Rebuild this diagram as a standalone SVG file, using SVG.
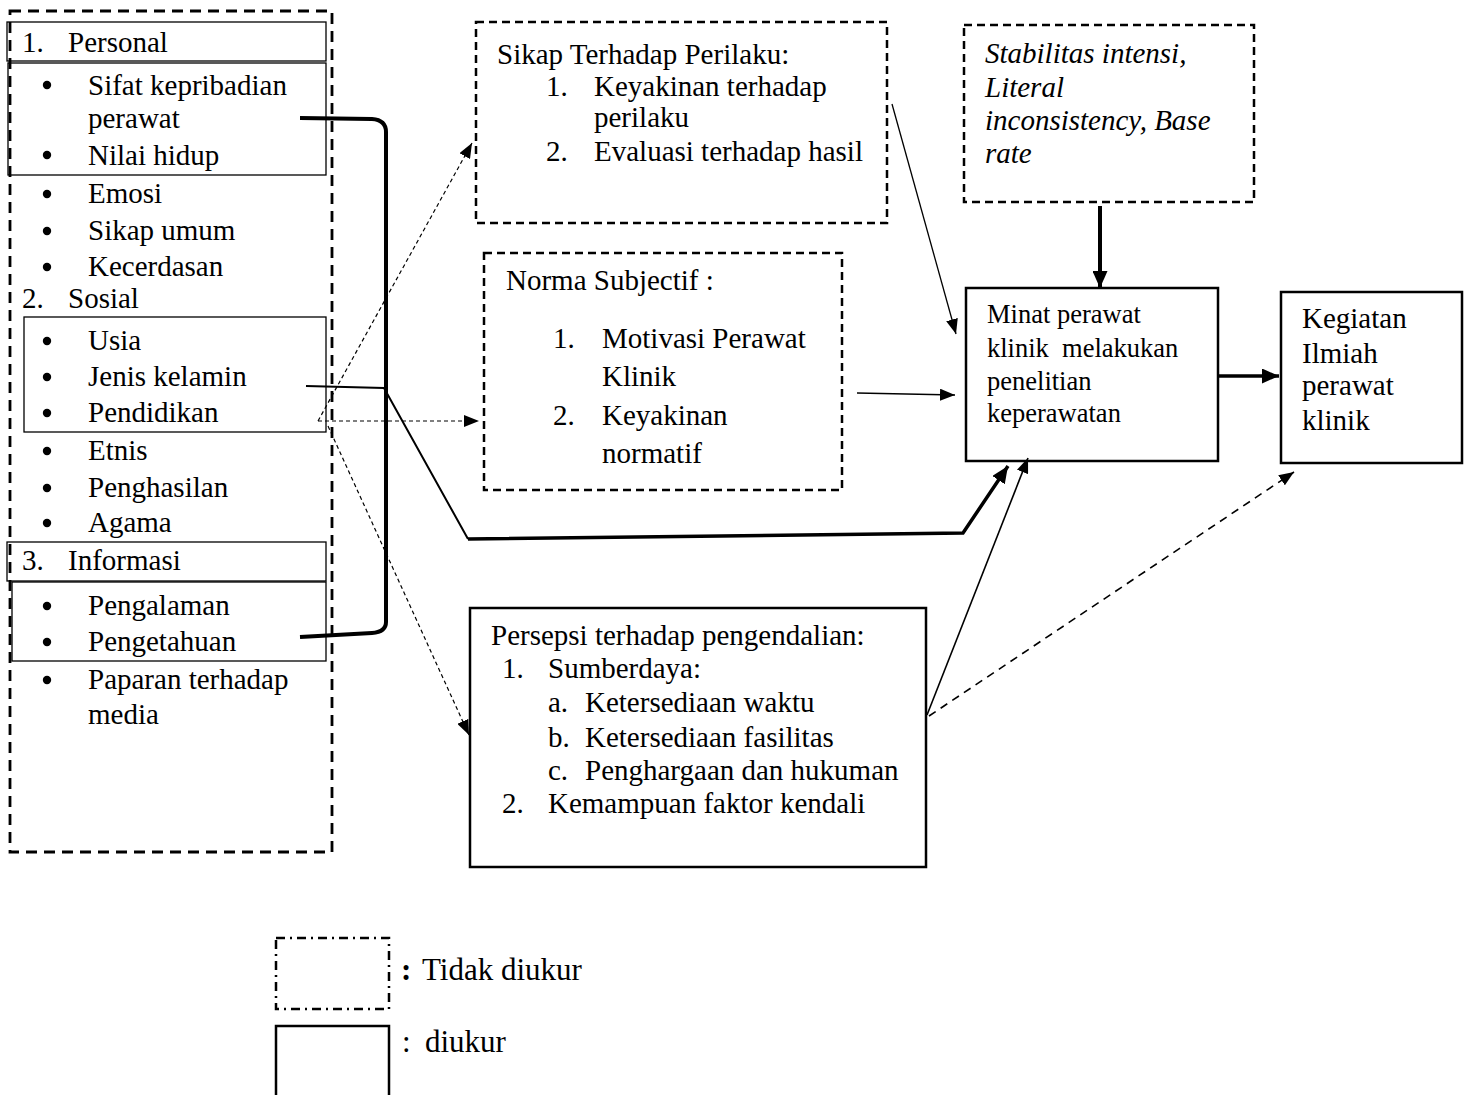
<svg xmlns="http://www.w3.org/2000/svg" width="1466" height="1095" viewBox="0 0 1466 1095">
<style>
text{font-family:"Liberation Serif","Times New Roman",serif;font-size:29px;fill:#000}
.sm{font-size:26.5px}
.it{font-style:italic}
.lg{font-size:31px}
.thin{fill:none;stroke:#000;stroke-width:1.3}
.solid{fill:#fff;stroke:#000;stroke-width:2.5}
.dash{fill:none;stroke:#000;stroke-width:2.5;stroke-dasharray:8 5}
.dashL{fill:none;stroke:#000;stroke-width:2.8;stroke-dasharray:11 7}
.dot{fill:none;stroke:#000;stroke-width:1.2;stroke-dasharray:4 3}
.ln{fill:none;stroke:#000}
</style>
<defs>
<marker id="aThin" markerUnits="userSpaceOnUse" markerWidth="15" markerHeight="12" refX="15" refY="6" orient="auto"><path d="M0,0 L15,6 L0,12 z" fill="#000"/></marker>
<marker id="aThick" markerUnits="userSpaceOnUse" markerWidth="17" markerHeight="15" refX="17" refY="7.5" orient="auto"><path d="M0,0 L17,7.5 L0,15 z" fill="#000"/></marker>
</defs>
<rect width="1466" height="1095" fill="#fff"/>

<g id="node-left">
<rect class="dashL" x="10" y="11" width="322" height="841"/>
<rect class="thin" x="7" y="22" width="319" height="39"/>
<rect class="thin" x="8" y="63" width="318" height="112"/>
<rect class="thin" x="24" y="317" width="302" height="115"/>
<rect class="thin" x="7" y="542" width="319" height="39"/>
<rect class="thin" x="12" y="582" width="314" height="79"/>
<text x="22" y="52">1.</text><text x="68" y="52">Personal</text>
<g fill="#000">
<circle cx="47" cy="85" r="4.2"/><circle cx="47" cy="155" r="4.2"/><circle cx="47" cy="194" r="4.2"/><circle cx="47" cy="231" r="4.2"/><circle cx="47" cy="267" r="4.2"/>
<circle cx="47" cy="341" r="4.2"/><circle cx="47" cy="377" r="4.2"/><circle cx="47" cy="413" r="4.2"/><circle cx="47" cy="451" r="4.2"/><circle cx="47" cy="488" r="4.2"/><circle cx="47" cy="523" r="4.2"/>
<circle cx="47" cy="606" r="4.2"/><circle cx="47" cy="642" r="4.2"/><circle cx="47" cy="680" r="4.2"/>
</g>
<text x="88" y="95">Sifat kepribadian</text>
<text x="88" y="128">perawat</text>
<text x="88" y="165">Nilai hidup</text>
<text x="88" y="203">Emosi</text>
<text x="88" y="240">Sikap umum</text>
<text x="88" y="276">Kecerdasan</text>
<text x="22" y="308">2.</text><text x="68" y="308">Sosial</text>
<text x="88" y="350">Usia</text>
<text x="88" y="386">Jenis kelamin</text>
<text x="88" y="422">Pendidikan</text>
<text x="88" y="460">Etnis</text>
<text x="88" y="497">Penghasilan</text>
<text x="88" y="532">Agama</text>
<text x="22" y="570">3.</text><text x="68" y="570">Informasi</text>
<text x="88" y="615">Pengalaman</text>
<text x="88" y="651">Pengetahuan</text>
<text x="88" y="689">Paparan terhadap</text>
<text x="88" y="724">media</text>
</g>

<g id="node-sikap">
<rect class="dash" x="476" y="22" width="411" height="201"/>
<text x="497" y="64">Sikap Terhadap Perilaku:</text>
<text x="546" y="96">1.</text><text x="594" y="96">Keyakinan terhadap</text>
<text x="594" y="127">perilaku</text>
<text x="546" y="161">2.</text><text x="594" y="161">Evaluasi terhadap hasil</text>
</g>

<g id="node-norma">
<rect class="dash" x="484" y="253" width="358" height="237"/>
<text x="506" y="290">Norma Subjectif :</text>
<text x="553" y="348">1.</text><text x="602" y="348">Motivasi Perawat</text>
<text x="602" y="386">Klinik</text>
<text x="553" y="425">2.</text><text x="602" y="425">Keyakinan</text>
<text x="602" y="463">normatif</text>
</g>

<g id="node-stabilitas">
<rect class="dash" x="964" y="25" width="290" height="177"/>
<text class="it" x="985" y="63">Stabilitas intensi,</text>
<text class="it" x="985" y="97">Literal</text>
<text class="it" x="985" y="130">inconsistency, Base</text>
<text class="it" x="985" y="163">rate</text>
</g>

<g id="node-minat">
<rect class="solid" x="966" y="288" width="252" height="173"/>
<text class="sm" x="987" y="323">Minat perawat</text>
<text class="sm" x="987" y="357" xml:space="preserve">klinik  melakukan</text>
<text class="sm" x="987" y="390">penelitian</text>
<text class="sm" x="987" y="422">keperawatan</text>
</g>

<g id="node-kegiatan">
<rect class="solid" x="1281" y="292" width="181" height="171"/>
<text x="1302" y="328">Kegiatan</text>
<text x="1302" y="363">Ilmiah</text>
<text x="1302" y="395">perawat</text>
<text x="1302" y="430">klinik</text>
</g>

<g id="node-persepsi">
<rect class="solid" x="470" y="608" width="456" height="259"/>
<text x="491" y="645">Persepsi terhadap pengendalian:</text>
<text x="502" y="678">1.</text><text x="548" y="678">Sumberdaya:</text>
<text x="548" y="712">a.</text><text x="585" y="712">Ketersediaan waktu</text>
<text x="548" y="747">b.</text><text x="585" y="747">Ketersediaan fasilitas</text>
<text x="548" y="780">c.</text><text x="585" y="780">Penghargaan dan hukuman</text>
<text x="502" y="813">2.</text><text x="548" y="813">Kemampuan faktor kendali</text>
</g>

<g id="connectors">
<path class="ln" stroke-width="4" d="M300,118 L372,119 Q386,120 386,132 L386,622 Q386,632 372,633 L300,637"/>
<path class="ln" stroke-width="2" d="M306,386 L384,388 L468,539"/>
<path class="ln" stroke-width="3.5" d="M468,539 L963,533 L1008,466" marker-end="url(#aThick)"/>
<path class="dot" d="M318,421 L472,143" marker-end="url(#aThin)"/>
<path class="dot" d="M318,421 L479,421" marker-end="url(#aThin)"/>
<path class="dot" d="M328,426 L469,735" marker-end="url(#aThin)"/>
<path class="ln" stroke-width="1.3" d="M892,104 L956,334" marker-end="url(#aThin)"/>
<path class="ln" stroke-width="1.3" d="M857,393 L955,395" marker-end="url(#aThin)"/>
<path class="ln" stroke-width="4" d="M1100,206 L1100,288" marker-end="url(#aThick)"/>
<path class="ln" stroke-width="3.5" d="M1218,376 L1279,376" marker-end="url(#aThick)"/>
<path class="ln" stroke-width="1.6" d="M927,715 L1028,458" marker-end="url(#aThin)"/>
<path class="ln" stroke-width="1.6" stroke-dasharray="8 6" d="M929,716 L1294,472" marker-end="url(#aThin)"/>
</g>

<g id="legend">
<rect fill="none" stroke="#000" stroke-width="2.5" stroke-dasharray="9 5 2 5" x="276" y="938" width="113" height="71"/>
<text class="lg" x="401" y="980" font-weight="bold">:</text>
<text class="lg" x="422" y="980">Tidak diukur</text>
<rect class="solid" x="276" y="1026" width="113" height="80"/>
<text class="lg" x="402" y="1052">:</text>
<text class="lg" x="425" y="1052">diukur</text>
</g>
</svg>
